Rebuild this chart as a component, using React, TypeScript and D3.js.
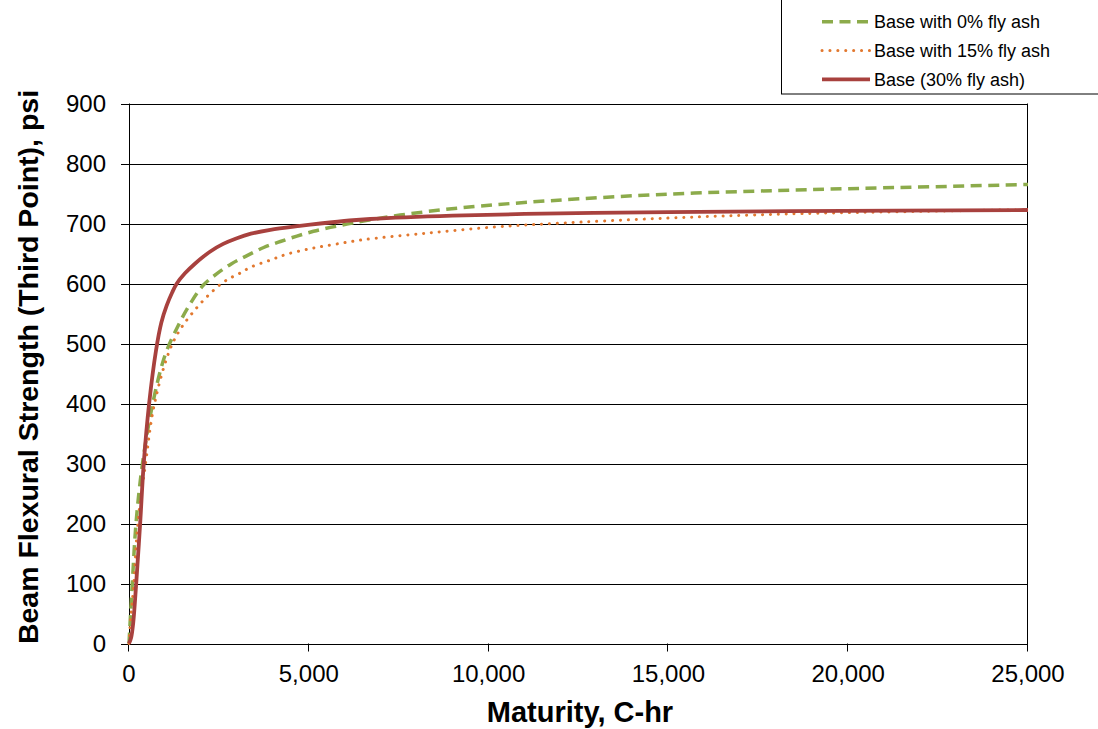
import React from "react";
import * as d3 from "d3";

// Maturity (C-hr) and beam flexural strength (psi)
const green0M = [0, 40, 92, 195, 375, 660, 1000, 1370, 1700, 2064, 2436, 2853, 3270, 3745, 4210, 4670, 5130, 5600, 6060, 6520, 7540, 9210, 11710, 15000, 18000, 20000, 25000];
const green0S = [0, 45, 100, 200, 300, 400, 480, 530, 566, 597, 616, 633, 646, 660, 670, 679, 687, 693.5, 699, 704, 714, 726, 738, 749, 755, 758, 765];

const orange15M = [0, 45, 135, 245, 460, 710, 1210, 1750, 2575, 3140, 3375, 3930, 4400, 5040, 5690, 6520, 8280, 10130, 11810, 15000, 18380, 25000];
const orange15S = [0, 40, 100, 200, 300, 400, 500, 550, 600, 619, 627, 639, 649, 658, 665, 673, 684, 694, 700, 709, 716, 723];

const red30M = [0, 60, 115, 200, 310, 410, 560, 750, 900, 1047, 1200, 1330, 1556, 1833, 2250, 2620, 3000, 3390, 3930, 4750, 5320, 6130, 6710, 9000, 11990, 15000, 18380, 25000];
const red30S = [0, 10, 33, 100, 200, 300, 400, 488, 535, 563, 585, 600, 617, 633, 653, 666, 675.5, 683, 689.5, 696, 700, 705, 707.5, 713, 717, 719, 720.5, 722.5];

const xTicks = [0, 5000, 10000, 15000, 20000, 25000];
const yTicks = [0, 100, 200, 300, 400, 500, 600, 700, 800, 900];

const seriesNames = ["Base with 0% fly ash", "Base with 15% fly ash", "Base (30% fly ash)"];

export default function App() {
  const W = 1098, H = 729;
  const x = d3.scaleLinear().domain([0, 25000]).range([129, 1028]);
  const y = d3.scaleLinear().domain([0, 900]).range([643.5, 103.5]);
  const line = d3
    .line<[number, number]>()
    .x((d) => x(d[0]))
    .y((d) => y(d[1]))
    .curve(d3.curveCatmullRom.alpha(0.5));
  const zip = (a: number[], b: number[]) => a.map((v, i) => [v, b[i]] as [number, number]);

  const series = [
    { name: seriesNames[0], data: zip(green0M, green0S), color: "#8cab4b", width: 3.5, dash: "11,6.5", cap: "butt" },
    { name: seriesNames[1], data: zip(orange15M, orange15S), color: "#e2782f", width: 3, dash: "0.1,7.8", cap: "round" },
    { name: seriesNames[2], data: zip(red30M, red30S), color: "#a8413e", width: 3.8, dash: "none", cap: "butt" },
  ];
  const fmt = d3.format(",");
  const font = "Arial, 'Liberation Sans', sans-serif";

  return (
    <svg width={W} height={H} style={{ position: "absolute", left: 0, top: 0, background: "#fff" }} fontFamily={font}>
      <rect x={0} y={0} width={W} height={H} fill="#fff" />
      {/* grid lines */}
      {yTicks.map((t) => (
        <line key={t} x1={121} x2={x(25000)} y1={Math.round(y(t)) + 0.5} y2={Math.round(y(t)) + 0.5} stroke="#000" strokeWidth={1} />
      ))}
      {/* axes / border */}
      <line x1={x(0) + 0.5} x2={x(0) + 0.5} y1={y(900)} y2={y(0) + 0.5} stroke="#000" strokeWidth={1} />
      <line x1={x(25000) - 0.5} x2={x(25000) - 0.5} y1={y(900)} y2={y(0) + 0.5} stroke="#000" strokeWidth={1} />
      {xTicks.map((t) => (
        <line key={t} x1={Math.round(x(t)) - 0.5} x2={Math.round(x(t)) - 0.5} y1={y(0)} y2={y(0) + 8} stroke="#000" strokeWidth={1} />
      ))}
      {/* tick labels */}
      {yTicks.map((t) => (
        <text key={t} x={106} y={y(t) + 8.5} textAnchor="end" fontSize={24}>
          {t}
        </text>
      ))}
      {xTicks.map((t) => (
        <text key={t} x={x(t)} y={682} textAnchor="middle" fontSize={24}>
          {fmt(t)}
        </text>
      ))}
      {/* axis titles */}
      <text x={580} y={722} textAnchor="middle" fontSize={29} fontWeight="bold">
        Maturity, C-hr
      </text>
      <text transform={`translate(38,367) rotate(-90)`} textAnchor="middle" fontSize={28.5} fontWeight="bold">
        Beam Flexural Strength (Third Point), psi
      </text>
      {/* series */}
      {series.map((s) => (
        <path
          key={s.name}
          d={line(s.data) || ""}
          fill="none"
          stroke={s.color}
          strokeWidth={s.width}
          strokeDasharray={s.dash}
          strokeLinecap={s.cap as any}
        />
      ))}
      {/* legend */}
      <rect x={781.5} y={-0.5} width={330} height={94.5} fill="#fff" stroke="#000" strokeWidth={1} />
      {series.map((s, i) => {
        const ly = 21.7 + i * 28.8;
        return (
          <g key={s.name}>
            <line x1={822} x2={870} y1={ly} y2={ly} stroke={s.color} strokeWidth={s.width} strokeDasharray={s.dash} strokeLinecap={s.cap as any} />
            <text x={874} y={ly + 6.2} fontSize={18}>
              {s.name}
            </text>
          </g>
        );
      })}
    </svg>
  );
}
